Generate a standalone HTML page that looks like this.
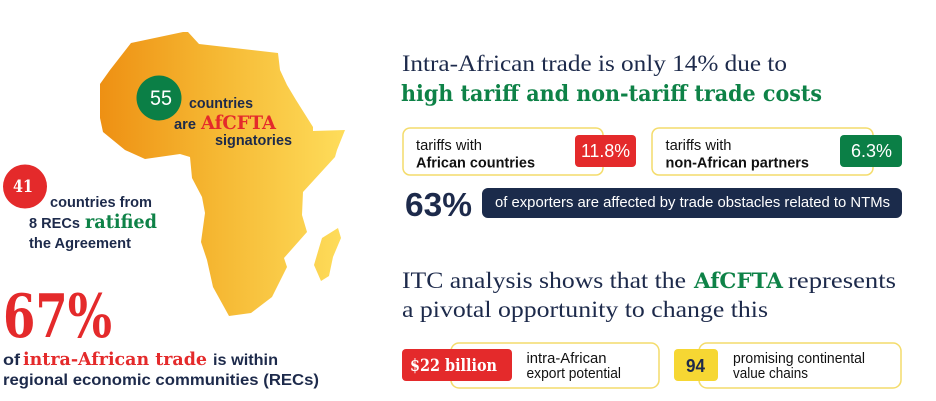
<!DOCTYPE html>
<html>
<head>
<meta charset="utf-8">
<style>
html,body{margin:0;padding:0;background:#fff;}
svg{display:block;}
.s{font-family:"Liberation Sans",Arial,sans-serif;}
.sb{font-family:"Liberation Sans",Arial,sans-serif;font-weight:bold;}
.r{font-family:"Liberation Serif","DejaVu Serif",serif;}
.rb{font-family:"DejaVu Serif","Liberation Serif",serif;font-weight:bold;}
</style>
</head>
<body>
<svg width="936" height="401" viewBox="0 0 936 401" xmlns="http://www.w3.org/2000/svg">
<defs>
<linearGradient id="af" gradientUnits="userSpaceOnUse" x1="100" y1="0" x2="345" y2="0">
<stop offset="0" stop-color="#EE9013"/>
<stop offset="0.45" stop-color="#F5B631"/>
<stop offset="1" stop-color="#FEDD5B"/>
</linearGradient>
</defs>

<!-- Africa -->
<polygon fill="url(#af)" points="100,84 110,70 131,43 183,32 188,32 199,44 278,53 280,70 287,85 296,100 313,127 313,131 345,130 337,150 335,157 303,192 302,215 307,232 284,258 287,267 272,297 251,313 229,316 213,287 207,260 201,242 205,213 202,197 192,178 190,157 180,154 145,159 125,150 103,132 100,118"/>
<polygon fill="url(#af)" points="322,238 338,228 341,238 333,257 329,276 321,281 314,265 319,248"/>

<!-- 55 -->
<circle cx="159" cy="98" r="22.5" fill="#0B7F46"/>
<text class="s" x="150" y="105" font-size="21" fill="#fff" textLength="22" lengthAdjust="spacingAndGlyphs">55</text>
<text class="sb" x="189" y="108" font-size="14.5" fill="#1D2A4B" textLength="64" lengthAdjust="spacingAndGlyphs">countries</text>
<text class="sb" x="174" y="129" font-size="14.5" fill="#1D2A4B" textLength="22" lengthAdjust="spacingAndGlyphs">are</text>
<text class="rb" x="201" y="129" font-size="19" fill="#E42A2B" textLength="75" lengthAdjust="spacingAndGlyphs">AfCFTA</text>
<text class="sb" x="215" y="145" font-size="14.5" fill="#1D2A4B" textLength="77" lengthAdjust="spacingAndGlyphs">signatories</text>

<!-- 41 -->
<circle cx="25" cy="186.5" r="22" fill="#E42A2B"/>
<text class="rb" x="13" y="192" font-size="17" fill="#fff" textLength="20" lengthAdjust="spacingAndGlyphs">41</text>
<text class="sb" x="50" y="207" font-size="14.5" fill="#1D2A4B" textLength="102" lengthAdjust="spacingAndGlyphs">countries from</text>
<text class="sb" x="29" y="228" font-size="14.5" fill="#1D2A4B" textLength="51" lengthAdjust="spacingAndGlyphs">8 RECs</text>
<text class="rb" x="85" y="228" font-size="19" fill="#0E8247" textLength="72" lengthAdjust="spacingAndGlyphs">ratified</text>
<text class="sb" x="29" y="248" font-size="14.5" fill="#1D2A4B" textLength="102" lengthAdjust="spacingAndGlyphs">the Agreement</text>

<!-- 67% -->
<text class="rb" x="3" y="337" font-size="60" fill="#E42A2B" textLength="109" lengthAdjust="spacingAndGlyphs">67%</text>
<text class="sb" x="3" y="365" font-size="16" fill="#1D2A4B" textLength="17" lengthAdjust="spacingAndGlyphs">of</text>
<text class="rb" x="23" y="365" font-size="18" fill="#E42A2B" textLength="184" lengthAdjust="spacingAndGlyphs">intra-African trade</text>
<text class="sb" x="213" y="365" font-size="16" fill="#1D2A4B" textLength="65" lengthAdjust="spacingAndGlyphs">is within</text>
<text class="sb" x="3" y="385" font-size="16" fill="#1D2A4B" textLength="316" lengthAdjust="spacingAndGlyphs">regional economic communities (RECs)</text>

<!-- Right heading 1 -->
<text class="r" x="402" y="71" font-size="23" fill="#1D2A4B" textLength="385" lengthAdjust="spacingAndGlyphs">Intra-African trade is only 14% due to</text>
<text class="rb" x="401" y="101" font-size="22" fill="#0E8247" textLength="421" lengthAdjust="spacingAndGlyphs">high tariff and non-tariff trade costs</text>

<!-- Box 1 -->
<rect x="403" y="128" width="200" height="47" rx="7" fill="#fff" stroke="#F4DC6B" stroke-width="1.5"/>
<text class="s" x="416" y="150" font-size="15" fill="#111" textLength="66" lengthAdjust="spacingAndGlyphs">tariffs with</text>
<text class="sb" x="416" y="167.5" font-size="15" fill="#111" textLength="119" lengthAdjust="spacingAndGlyphs">African countries</text>
<rect x="575" y="135" width="61" height="32" rx="4" fill="#E42A2B"/>
<text class="s" x="581" y="157" font-size="18" fill="#fff" textLength="49" lengthAdjust="spacingAndGlyphs">11.8%</text>

<!-- Box 2 -->
<rect x="652" y="128" width="221" height="47" rx="7" fill="#fff" stroke="#F4DC6B" stroke-width="1.5"/>
<text class="s" x="665.5" y="150" font-size="15" fill="#111" textLength="66" lengthAdjust="spacingAndGlyphs">tariffs with</text>
<text class="sb" x="665.5" y="167.5" font-size="15" fill="#111" textLength="143.5" lengthAdjust="spacingAndGlyphs">non-African partners</text>
<rect x="840" y="135" width="62" height="32" rx="4" fill="#0B7F46"/>
<text class="s" x="851" y="157" font-size="18" fill="#fff" textLength="41" lengthAdjust="spacingAndGlyphs">6.3%</text>

<!-- 63% -->
<text class="sb" x="405" y="216" font-size="33.5" fill="#1D2A4B" textLength="67" lengthAdjust="spacingAndGlyphs">63%</text>
<rect x="482" y="188" width="420" height="30" rx="6" fill="#1B2B4B"/>
<text class="s" x="495" y="207" font-size="15" fill="#fff" textLength="395" lengthAdjust="spacingAndGlyphs">of exporters are affected by trade obstacles related to NTMs</text>

<!-- Heading 3 -->
<text class="r" x="402" y="288" font-size="23" fill="#1D2A4B" textLength="284" lengthAdjust="spacingAndGlyphs">ITC analysis shows that the</text>
<text class="rb" x="694" y="288" font-size="21" fill="#0E8247" textLength="89" lengthAdjust="spacingAndGlyphs">AfCFTA</text>
<text class="r" x="788" y="288" font-size="23" fill="#1D2A4B" textLength="108" lengthAdjust="spacingAndGlyphs">represents</text>
<text class="r" x="402" y="317" font-size="23" fill="#1D2A4B" textLength="366" lengthAdjust="spacingAndGlyphs">a pivotal opportunity to change this</text>

<!-- Box A -->
<rect x="451" y="343" width="208" height="45" rx="8" fill="#fff" stroke="#F4DC6B" stroke-width="1.5"/>
<rect x="402" y="349" width="110" height="32" rx="4" fill="#E42A2B"/>
<text class="rb" x="410" y="371" font-size="17" fill="#fff" textLength="87" lengthAdjust="spacingAndGlyphs">$22 billion</text>
<text class="s" x="526.5" y="363" font-size="14.5" fill="#111" textLength="80" lengthAdjust="spacingAndGlyphs">intra-African</text>
<text class="s" x="526.5" y="378" font-size="14.5" fill="#111" textLength="94.5" lengthAdjust="spacingAndGlyphs">export potential</text>

<!-- Box B -->
<rect x="699" y="343" width="202" height="45" rx="8" fill="#fff" stroke="#F4DC6B" stroke-width="1.5"/>
<rect x="674" y="349" width="44" height="32" rx="4" fill="#F6D733"/>
<text class="sb" x="686" y="372" font-size="18" fill="#1D2A4B" textLength="19" lengthAdjust="spacingAndGlyphs">94</text>
<text class="s" x="733" y="363" font-size="14.5" fill="#111" textLength="132" lengthAdjust="spacingAndGlyphs">promising continental</text>
<text class="s" x="733" y="378" font-size="14.5" fill="#111" textLength="75" lengthAdjust="spacingAndGlyphs">value chains</text>
</svg>
</body>
</html>
